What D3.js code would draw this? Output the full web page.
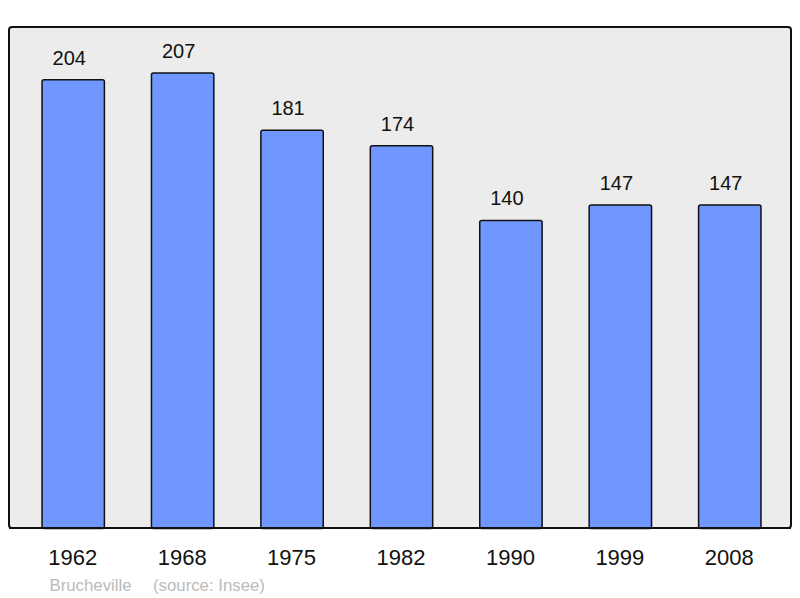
<!DOCTYPE html>
<html><head><meta charset="utf-8">
<script src="https://cdn.jsdelivr.net/npm/d3@7"></script>
<style>body{margin:0;background:#fff}svg{display:block;font-family:"Liberation Sans",Arial,sans-serif}</style>
</head><body>
<script>
const years = ["1962","1968","1975","1982","1990","1999","2008"];
const population = [204,207,181,174,140,147,147];
const commune = "Brucheville";
const source = "(source: Insee)";

const W=800,H=598;
const svg=d3.select("body").append("svg").attr("width",W).attr("height",H);
const panel={x:9,y:27,w:782,h:501};
svg.append("rect").attr("x",panel.x).attr("y",panel.y).attr("width",panel.w).attr("height",panel.h)
  .attr("rx",3).attr("fill","#ececec").attr("stroke","#111").attr("stroke-width",2);

const x=d3.scaleBand().domain(years).range([18.5,784.5]).padding(0);
const y=d3.scaleLinear().domain([0,d3.max(population)*1.1]).range([528,27]);
const bw=x.bandwidth()*0.57;

const g=svg.append("g");
g.selectAll("rect.bar").data(years).join("rect").attr("class","bar")
  .attr("x",d=>x(d)+x.bandwidth()/2-bw/2).attr("width",bw)
  .attr("y",(d,i)=>y(population[i])+0.5).attr("height",(d,i)=>y(0)-y(population[i]))
  .attr("rx",2).attr("fill","#7096ff").attr("stroke","#111").attr("stroke-width",1.5);

g.selectAll("text.val").data(years).join("text").attr("class","val")
  .attr("x",d=>x(d)+x.bandwidth()/2-4).attr("y",(d,i)=>y(population[i])-14.5)
  .attr("text-anchor","middle").attr("font-size",20).attr("fill","#111")
  .text((d,i)=>population[i]);

svg.append("line").attr("x1",panel.x).attr("x2",panel.x+panel.w).attr("y1",528).attr("y2",528)
  .attr("stroke","#111").attr("stroke-width",2);

const ax=d3.axisBottom(x).tickSize(0).tickPadding(0);
const axg=svg.append("g").attr("transform","translate(0,565)").call(ax);
axg.select(".domain").remove();
axg.selectAll("text").attr("font-size",22).attr("fill","#111").attr("dy",0).attr("dx",-0.5)
  .style("font-family",'"Liberation Sans",Arial,sans-serif');

svg.append("text").attr("x",49.5).attr("y",590.5).attr("font-size",16.8).attr("fill","#bbbbbb").text(commune);
svg.append("text").attr("x",153).attr("y",590.5).attr("font-size",16.8).attr("fill","#bbbbbb").text(source);
</script>
</body></html>
